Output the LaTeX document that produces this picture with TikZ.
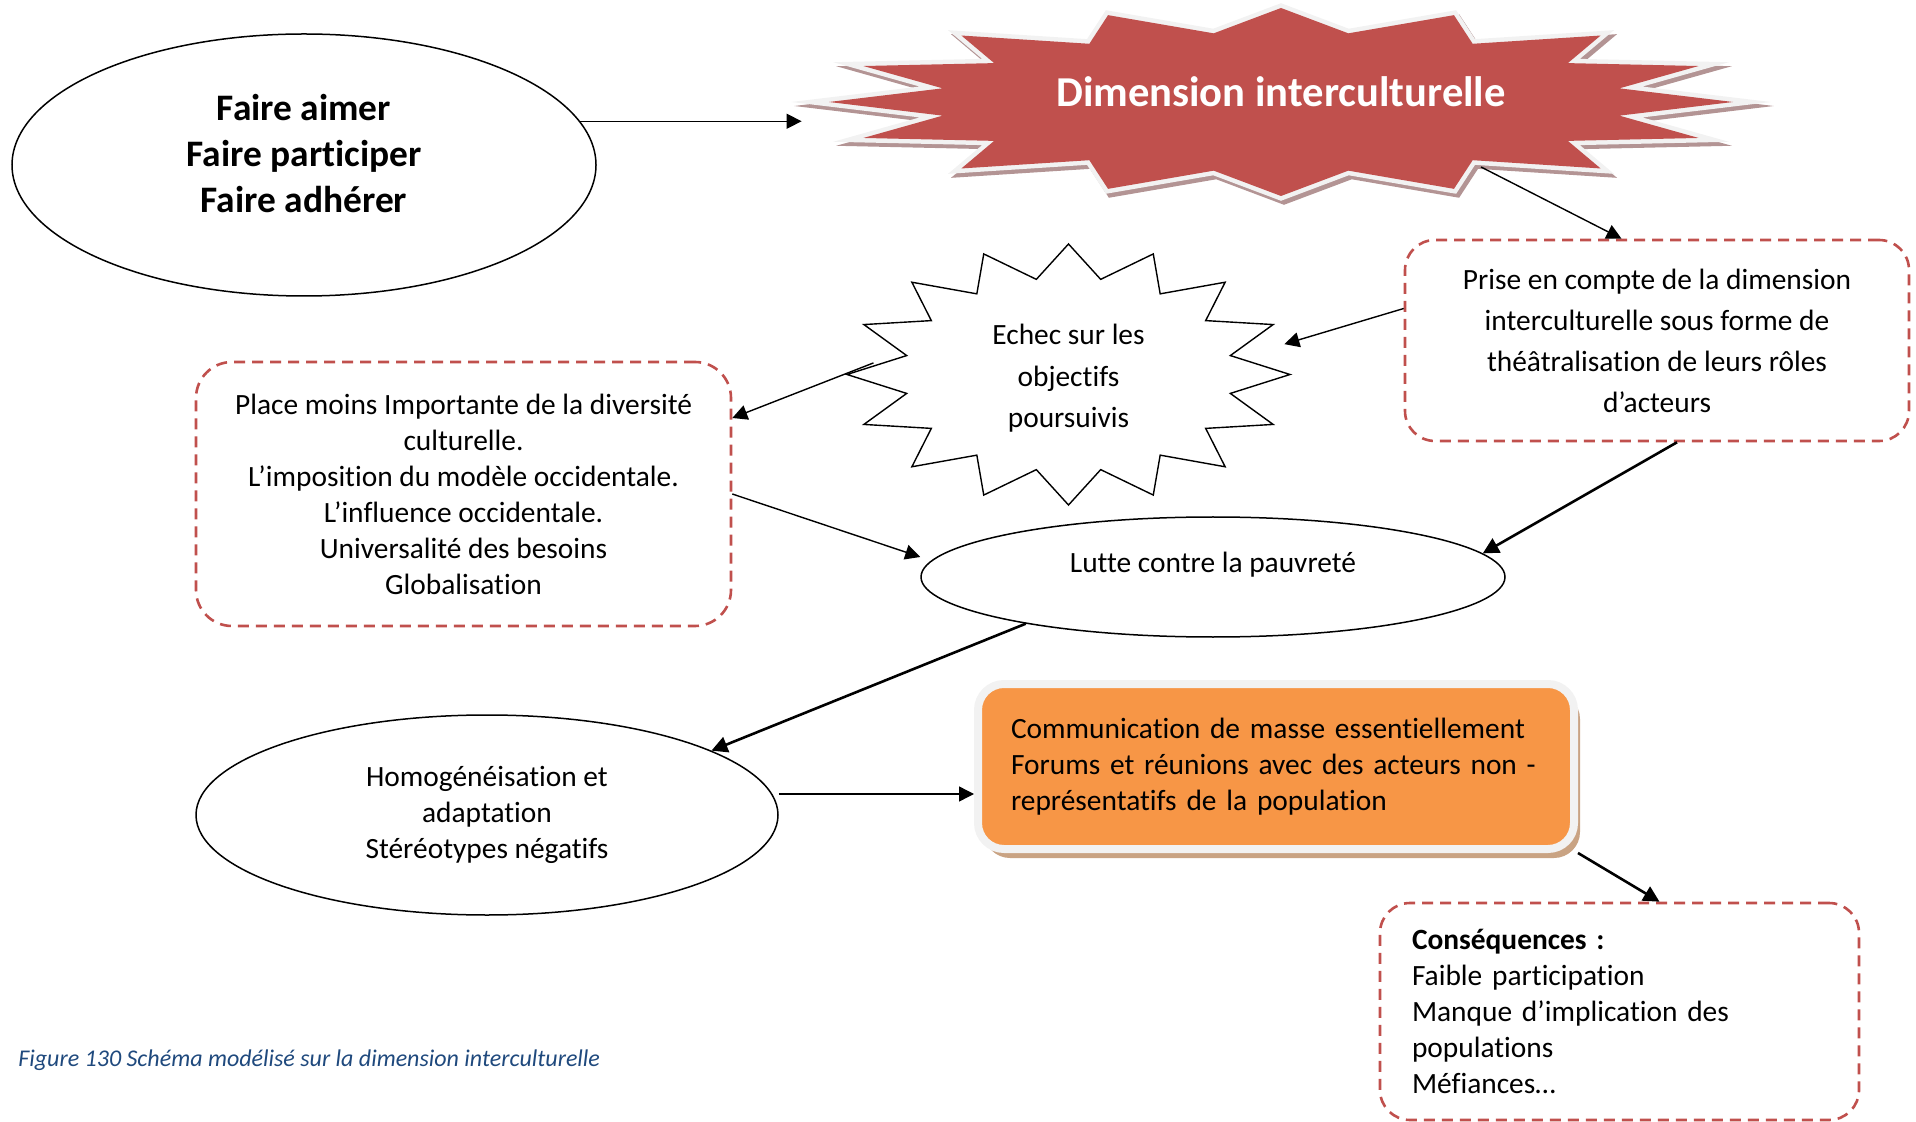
\documentclass[tikz,border=0pt]{standalone}
\usepackage{fontspec}
\setmainfont{Carlito}[Ligatures={NoCommon,NoRare,NoContextual,NoRequired}]
\usepackage{tikz}
\usetikzlibrary{arrows.meta, calc, positioning, shapes.geometric, shadows}

\definecolor{dimred}{HTML}{C0504D}
\definecolor{boxorange}{HTML}{F79646}
\definecolor{rimgray}{HTML}{F2F2F2}
\definecolor{shadowred}{HTML}{B39494}
\definecolor{shadowtan}{HTML}{C9A383}
\definecolor{captionblue}{HTML}{1F497D}

% 16-point star: outer rx, outer ry, inner rx, inner ry
\newcommand{\starpath}[4]{(#1,0)
  \foreach \k [evaluate=\k as \srx using {isodd(\k) ? #3 : #1},
               evaluate=\k as \sry using {isodd(\k) ? #4 : #2}] in {1,...,31}
  { -- ({\srx*cos(\k*11.25)},{\sry*sin(\k*11.25)}) } -- cycle}

\tikzset{
  txt/.style={font=\fontsize{14.7}{18}\selectfont, align=center, inner sep=0pt},
  dashbox/.style={txt, draw=dimred, line width=1.3pt, dash pattern=on 5.5pt off 3.5pt, rounded corners=15pt},
  oval/.style={ellipse, draw, line width=0.75pt, inner sep=0pt},
  link/.style={-{Triangle[length=7.5pt, width=7.5pt]}, line width=0.7pt},
  boldlink/.style={-{Triangle[length=8pt, width=8pt]}, line width=1.3pt},
}

\begin{document}
\begin{tikzpicture}[x=0.5pt, y=-0.5pt]
    \useasboundingbox (0,0) rectangle (1916,1122);

    \node[oval, minimum width=292pt, minimum height=131pt] (faire) at (304,165) {};
    \node[txt, font=\bfseries\fontsize{18.7}{23}\selectfont] (faire-txt) at (304,154) {Faire aimer\\Faire participer\\Faire adhérer};

    % big star
    \node[inner sep=0pt, minimum width=479pt, minimum height=103pt] (dim) at (1281,102) {};
    \begin{scope}[shift={(dim.center)}, line join=miter]
        \filldraw[shadowred, line width=4.5pt, shift={(3,4)}] \starpath{452}{94}{345}{70};
        \draw[rimgray, line width=4.5pt] \starpath{452}{94}{345}{70};
        \fill[dimred] \starpath{452}{94}{345}{70};
    \end{scope}
    \node[font=\bfseries\fontsize{21.3}{26}\selectfont, text=white, inner sep=0pt] (dim-txt) at (1281,92) {Dimension interculturelle};
    \coordinate (dim-se) at ($(dim.center)+(200,65)$);

    \node[dashbox, minimum width=252pt, minimum height=100.5pt, font=\fontsize{14.7}{20.5}\selectfont] (prise) at (1657,340.5) {Prise en compte de la dimension\\interculturelle sous forme de\\théâtralisation de leurs rôles\\d’acteurs};

    \node[txt, ellipse, minimum width=221.5pt, minimum height=130.5pt, font=\fontsize{14.7}{20.7}\selectfont] (echec) at (1068.5,374.5) {\rule{0pt}{14pt}Echec sur les\\objectifs\\poursuivis};
    \draw[line width=0.7pt, line join=miter, shift={(echec.center)}] \starpath{221.5}{130.5}{165}{97};

    \node[dashbox, rounded corners=18pt, minimum width=267.5pt, minimum height=132pt] (place) at (463.5,494) {Place moins Importante de la diversité\\culturelle.\\L’imposition du modèle occidentale.\\L’influence occidentale.\\Universalité des besoins\\Globalisation};

    \node[oval, minimum width=292pt, minimum height=60pt] (lutte) at (1213,577) {};
    \node[txt] (lutte-txt) at (1213,565) {Lutte contre la pauvreté};

    \node[oval, txt, minimum width=291pt, minimum height=100pt] (homog) at (487,815) {Homogénéisation et\\adaptation\\Stéréotypes négatifs};

    \node[txt, align=left, text width=265pt, minimum width=298pt, minimum height=82.5pt, draw=rimgray, line width=4pt, fill=boxorange, rounded corners=13pt,
          drop shadow={shadow xshift=3pt, shadow yshift=-4.5pt, fill=shadowtan, opacity=1}] (comm) at (1276,766.5)
          {Communication de masse essentiellement\\Forums et réunions avec des acteurs non -\\représentatifs de la population};

    \node[dashbox, align=left, text width=207.5pt, minimum width=239.5pt, minimum height=108.5pt] (csq) at (1619.5,1011.5)
          {\textbf{Conséquences :}\\Faible participation\\Manque d’implication des\\populations\\Méfiances…};

    \node[anchor=west, inner sep=0pt, font=\itshape\fontsize{12}{14}\selectfont, text=captionblue] (caption) at (18,1060) {Figure 130 Schéma modélisé sur la dimension interculturelle};

    \draw[link] (faire.9) -- (faire.9 -| dim.west);
    \draw[link] (dim-se) -- ($(prise.north west)!0.43!(prise.north east)$);
    \draw[link] ([yshift=16pt]prise.west) -- (echec.8);
    \draw[link] ([xshift=13pt]echec.177) -- ([yshift=38pt]place.east);
    \draw[link] (place.east) -- ([yshift=10pt]lutte.west);
    \draw[boldlink] ([xshift=10pt]prise.south) -- (lutte.5);
    \draw[boldlink] (lutte.194) -- (homog.16);
    \draw[link] ([yshift=10.5pt]homog.east) -- ([yshift=10.5pt]homog.east -| comm.west);
    \draw[boldlink] (comm.south east) -- ([xshift=20pt]csq.north);
\end{tikzpicture}
\end{document}
